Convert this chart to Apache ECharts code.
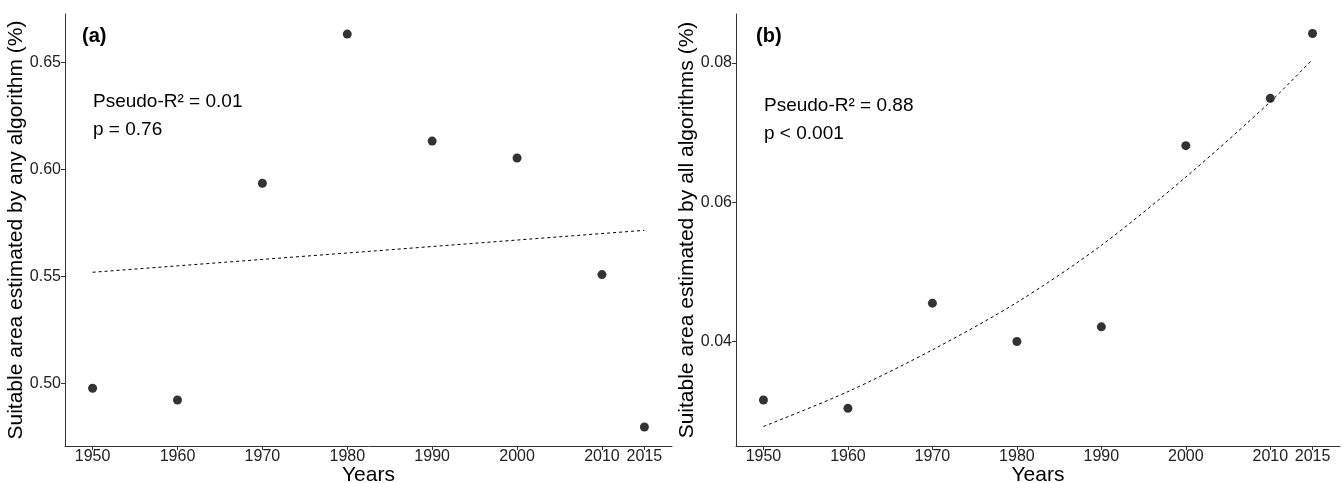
<!DOCTYPE html>
<html>
<head>
<meta charset="utf-8">
<script src="https://cdn.jsdelivr.net/npm/echarts@6/dist/echarts.min.js"></script>
<style>
  html, body { margin: 0; padding: 0; background: #fff; }
  #chart { width: 1344px; height: 483px; }
</style>
</head>
<body>
<div id="chart"></div>
<script>
const years = [1950, 1960, 1970, 1980, 1990, 2000, 2010, 2015]
const xTicks = [1950, 1960, 1970, 1980, 1990, 2000, 2010, 2015]

// (a) any algorithm
const anyArea = [0.4977, 0.4922, 0.5935, 0.6632, 0.6132, 0.6053, 0.5508, 0.4796]
const anyFitYears = [1950, 1980, 2015]
const anyFit = [0.5519, 0.5609, 0.5715]
const anyTicks = [0.50, 0.55, 0.60, 0.65]

// (b) all algorithms
const allArea = [0.0316, 0.0304, 0.0455, 0.0400, 0.0421, 0.0681, 0.0749, 0.0842]
const allFit = [0.0278, 0.0328, 0.0388, 0.0456, 0.0538, 0.0636, 0.0744, 0.0805]
const allTicks = [0.04, 0.06, 0.08]

const FONT = 'Liberation Sans, Arial, sans-serif'
const AXIS_COLOR = '#333'

const xAxisFor = (gridIndex) => ({
    type: 'value',
    gridIndex,
    min: 1946.75,
    max: 2018.25,
    name: 'Years',
    nameLocation: 'middle',
    nameGap: 19,
    nameMoveOverlap: false,
    nameTextStyle: { fontFamily: FONT, fontSize: 21, color: '#000', verticalAlign: 'top' },
    axisLine: { lineStyle: { color: AXIS_COLOR, width: 1 } },
    axisTick: { customValues: xTicks, length: 4, lineStyle: { color: AXIS_COLOR } },
    axisLabel: {
        customValues: xTicks, fontFamily: FONT, fontSize: 16, color: '#222', margin: 3,
        formatter: (v) => String(v)
    },
    splitLine: { show: false }
})

const yAxisFor = (gridIndex, min, max, ticks, name) => ({
    type: 'value',
    gridIndex,
    min,
    max,
    name,
    nameLocation: 'middle',
    nameGap: 38,
    nameMoveOverlap: false,
    nameTextStyle: { fontFamily: FONT, fontSize: 21, color: '#000' },
    axisLine: { show: true, lineStyle: { color: AXIS_COLOR, width: 1 } },
    axisTick: { show: true, customValues: ticks, length: 4, lineStyle: { color: AXIS_COLOR } },
    axisLabel: {
        customValues: ticks, fontFamily: FONT, fontSize: 16, color: '#222', margin: 4,
        formatter: (v) => v.toFixed(2)
    },
    splitLine: { show: false }
})

const pts = (xs, ys) => xs.map((x, i) => [x, ys[i]])

const label = (left, top, text, bold, size) => ({
    type: 'text', left, top,
    style: { text, fontFamily: FONT, fontSize: size, fontWeight: bold ? 'bold' : 'normal', fill: '#000', lineHeight: 28 }
})

const chart = echarts.init(document.getElementById('chart'))
chart.setOption({
    animation: false,
    grid: [
        { left: 65, right: 672, top: 14, bottom: 37, outerBoundsMode: 'none', containLabel: false },
        { left: 736, right: 4, top: 14, bottom: 37, outerBoundsMode: 'none', containLabel: false }
    ],
    xAxis: [xAxisFor(0), xAxisFor(1)],
    yAxis: [
        yAxisFor(0, 0.4707, 0.6726, anyTicks, 'Suitable area estimated by any algorithm (%)'),
        yAxisFor(1, 0.0250, 0.0870, allTicks, 'Suitable area estimated by all algorithms (%)')
    ],
    series: [
        {
            type: 'line', xAxisIndex: 0, yAxisIndex: 0,
            data: pts(anyFitYears, anyFit), showSymbol: false, symbol: 'none',
            lineStyle: { color: '#000', width: 1, type: [3, 3] }
        },
        {
            type: 'scatter', xAxisIndex: 0, yAxisIndex: 0,
            data: pts(years, anyArea), symbolSize: 9, itemStyle: { color: '#000' }
        },
        {
            type: 'line', xAxisIndex: 1, yAxisIndex: 1,
            data: pts(years, allFit), smooth: 0.3, showSymbol: false, symbol: 'none',
            lineStyle: { color: '#000', width: 1, type: [3, 3] }
        },
        {
            type: 'scatter', xAxisIndex: 1, yAxisIndex: 1,
            data: pts(years, allArea), symbolSize: 9, itemStyle: { color: '#000' }
        }
    ],
    graphic: [
        label(82, 22, '(a)', true, 20),
        label(93, 88, 'Pseudo-R² = 0.01\np = 0.76', false, 19),
        label(756, 22, '(b)', true, 20),
        label(764, 92, 'Pseudo-R² = 0.88\np < 0.001', false, 19)
    ]
})
</script>
</body>
</html>
